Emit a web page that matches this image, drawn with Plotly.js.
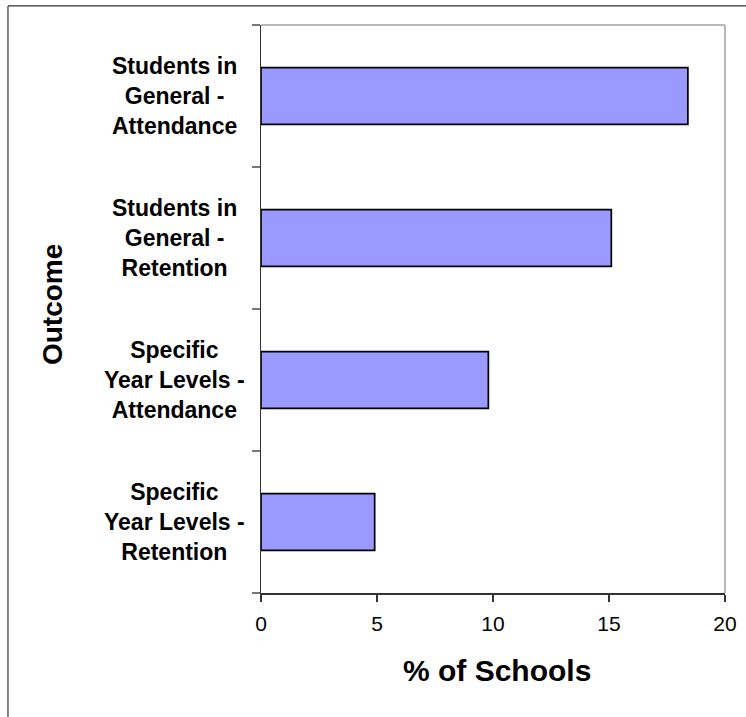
<!DOCTYPE html>
<html>
<head>
<meta charset="utf-8">
<script src="https://cdn.plot.ly/plotly-3.0.1.min.js"></script>
<style>
  html, body { margin: 0; padding: 0; background: #fff; }
  #chart { width: 746px; height: 717px; }
</style>
</head>
<body>
<div id="chart"></div>
<script>
// Outcome categories, listed top to bottom
const outcomes = [
  "Students in General - Attendance",
  "Students in General - Retention",
  "Specific Year Levels - Attendance",
  "Specific Year Levels - Retention"
];
// Multi-line labels shown beside each bar
const outcomeLabels = [
  "Students in<br>General -<br>Attendance",
  "Students in<br>General -<br>Retention",
  "Specific<br>Year Levels -<br>Attendance",
  "Specific<br>Year Levels -<br>Retention"
];
// Percentage of schools reporting each outcome
const pctSchools = [18.4, 15.1, 9.8, 4.9];
const xTicks = [0, 5, 10, 15, 20];

const FONT = "Liberation Sans, Arial, sans-serif";

const trace = {
  type: "bar",
  orientation: "h",
  y: outcomes,
  x: pctSchools,
  marker: { color: "#9999ff", line: { color: "#000000", width: 1.7 } },
  hoverinfo: "x+y"
};

// Centered category labels placed at each category position
const labelAnnotations = outcomes.map((cat, i) => ({
  xref: "paper", yref: "y",
  x: -0.1875, y: cat,
  xanchor: "center", yanchor: "middle",
  text: "<b>" + outcomeLabels[i] + "</b>",
  align: "center",
  showarrow: false,
  font: { family: FONT, size: 23, color: "#000" }
}));

const layout = {
  width: 746, height: 717,
  margin: { l: 261, r: 21, t: 25, b: 124 },
  paper_bgcolor: "#fff",
  plot_bgcolor: "#fff",
  showlegend: false,
  bargap: 0.6,
  font: { family: FONT, color: "#000" },
  xaxis: {
    range: [0, 20],
    tickvals: xTicks,
    ticktext: xTicks.map(String),
    showgrid: false, zeroline: false,
    showline: true, linecolor: "#333", linewidth: 1.5,
    ticks: "outside", ticklen: 7, tickwidth: 1.3, tickcolor: "#333",
    tickfont: { family: FONT, size: 21, color: "#000" },
    ticklabelstandoff: 4
  },
  yaxis: {
    type: "category",
    categoryorder: "array",
    categoryarray: outcomes.slice().reverse(),
    showgrid: false, zeroline: false,
    showline: true, linecolor: "#333", linewidth: 1.5,
    ticks: "outside", tickson: "boundaries", ticklen: 8, tickwidth: 1.2, tickcolor: "#777",
    showticklabels: false
  },
  annotations: labelAnnotations.concat([
    {
      // y-axis title
      xref: "paper", yref: "paper",
      x: -0.4504, y: 0.507,
      xanchor: "center", yanchor: "middle",
      text: "<b>Outcome</b>", textangle: -90, showarrow: false,
      font: { family: FONT, size: 28, color: "#000" }
    },
    {
      // x-axis title
      xref: "paper", yref: "paper",
      x: 0.5086, y: -0.1373,
      xanchor: "center", yanchor: "middle",
      text: "<b>% of Schools</b>", showarrow: false,
      font: { family: FONT, size: 30, color: "#000" }
    }
  ]),
  shapes: [
    // gray top and right edges of the plotting area
    { type: "line", xref: "paper", yref: "paper", x0: 0, x1: 1, y0: 1, y1: 1,
      line: { color: "#a0a0a0", width: 1.5 } },
    { type: "line", xref: "paper", yref: "paper", x0: 1, x1: 1, y0: 0, y1: 1,
      line: { color: "#a0a0a0", width: 1.5 } },
    // frame around the whole chart (left and top edges)
    { type: "line", xref: "paper", yref: "paper", x0: -0.5453, x1: -0.5453, y0: -0.3, y1: 1.0335,
      line: { color: "#333", width: 1.2 }, layer: "below" },
    { type: "line", xref: "paper", yref: "paper", x0: -0.5453, x1: 1.2, y0: 1.0335, y1: 1.0335,
      line: { color: "#333", width: 1.2 }, layer: "below" }
  ]
};

Plotly.newPlot("chart", [trace], layout, { displayModeBar: false, staticPlot: true });
</script>
</body>
</html>
